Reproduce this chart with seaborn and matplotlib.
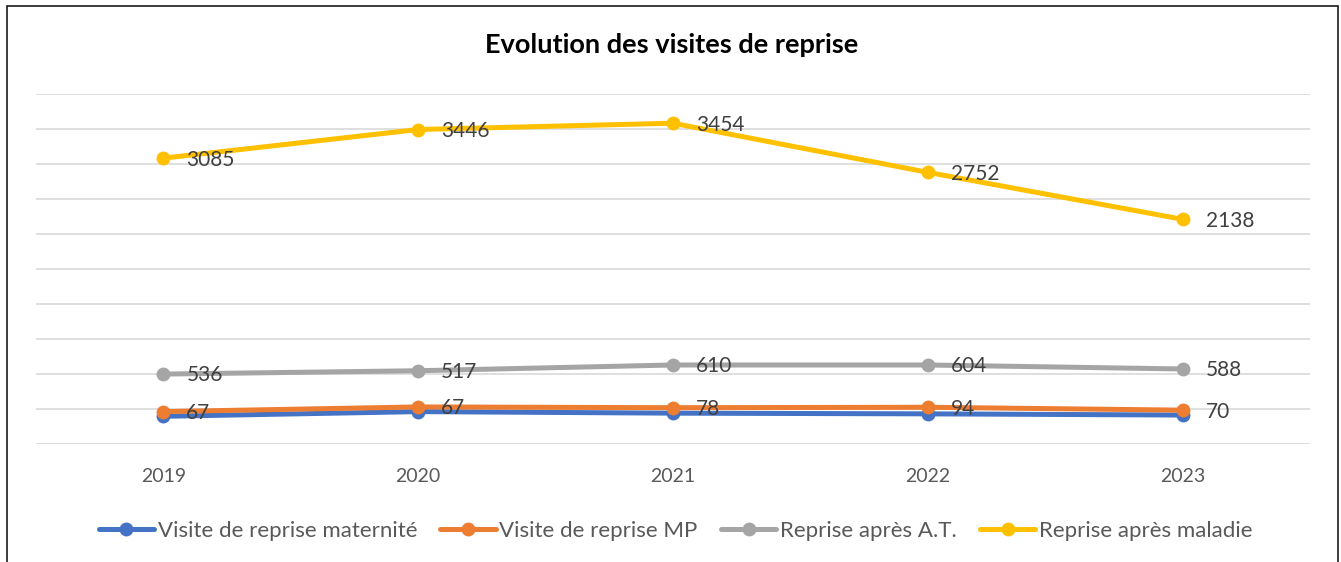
import pandas as pd
import matplotlib.pyplot as plt
import seaborn as sns
from matplotlib.patches import Rectangle

# Data (stacked line chart, labels show each series' own value)
years = ["2019", "2020", "2021", "2022", "2023"]
maternite = [400, 467, 445, 435, 418]
mp = [67, 67, 78, 94, 70]
accident_travail = [536, 517, 610, 604, 588]
maladie = [3085, 3446, 3454, 2752, 2138]

series_names = ["Visite de reprise maternité", "Visite de reprise MP",
                "Reprise après A.T.", "Reprise après maladie"]
series_values = [maternite, mp, accident_travail, maladie]
colors = ["#4472C4", "#ED7D31", "#A5A5A5", "#FFC000"]

# build long table with cumulated values (stacked lines)
rows = []
cumul = [0] * len(years)
for name, values in zip(series_names, series_values):
    cumul = [c + v for c, v in zip(cumul, values)]
    for year, v, c in zip(years, values, cumul):
        rows.append({"Année": year, "Série": name, "Valeur": v, "Cumul": c})
df = pd.DataFrame(rows)

sns.set_theme(style="white")
plt.rcParams["font.family"] = ["Lato", "DejaVu Sans"]

fig = plt.figure(figsize=(13.41, 5.62), dpi=100)
ax = fig.add_axes([36 / 1341, 1 - 444.3 / 562, (1310 - 36) / 1341, 350 / 562])

sns.lineplot(data=df, x="Année", y="Cumul", hue="Série", palette=colors,
             marker="o", markersize=10, markeredgewidth=0, linewidth=3.6,
             ax=ax, legend=True)

# data labels (not for maternité)
for name in series_names[1:]:
    sub = df[df["Série"] == name].reset_index(drop=True)
    for i, r in sub.iterrows():
        ax.annotate(str(r["Valeur"]), (i, r["Cumul"]), xytext=(16.5, -1),
                    textcoords="offset points", ha="left", va="center",
                    fontsize=15, color="#404040", zorder=10)

ax.set_xlim(-0.5, 4.5)
ax.set_ylim(0, 5000)
ax.set_yticks(range(0, 5001, 500))
ax.set_yticklabels([])
ax.yaxis.grid(True, color="#D9D9D9", linewidth=1.2)
ax.xaxis.grid(False)
for s in ax.spines.values():
    s.set_visible(False)
ax.tick_params(axis="x", length=0, pad=17, labelsize=14, labelcolor="#595959")
ax.tick_params(axis="y", length=0)
ax.set_xlabel("")
ax.set_ylabel("")

# legend at bottom
handles, labels = ax.get_legend_handles_labels()
ax.get_legend().remove()
fig.legend(handles, labels, loc="center", bbox_to_anchor=(675.5 / 1341, 1 - 531 / 562),
           ncol=4, frameon=False, fontsize=16, handlelength=2.5,
           handletextpad=0.15, columnspacing=1.05, labelcolor="#595959")

fig.text(672 / 1341, 1 - 45 / 562, "Evolution des visites de reprise",
         ha="center", va="center", fontsize=19.5, fontweight="bold", color="#000000")

# outer chart border
fig.patches.append(Rectangle((7 / 1341, -0.02), (1338 - 7) / 1341, 1.02 - 5.5 / 562,
                             transform=fig.transFigure, fill=False,
                             edgecolor="#1a1a1a", linewidth=1.2))

fig.savefig("out.png", dpi=100)
